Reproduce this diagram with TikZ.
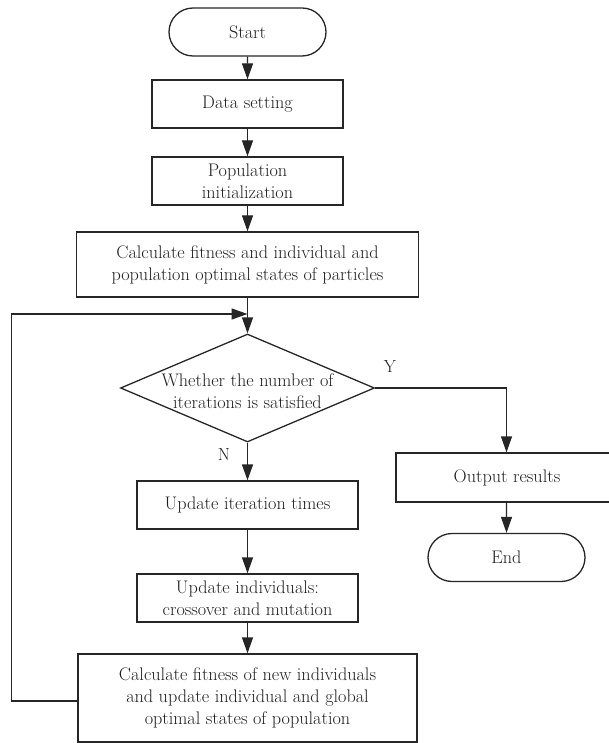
\documentclass[tikz,border=0pt]{standalone}
\usetikzlibrary{arrows.meta,shapes.geometric,shapes.misc}
\begin{document}
\begin{tikzpicture}[x=1pt,y=-1pt,
  txt/.style={font=\fontsize{18.2}{22}\selectfont, text=black!88},
  box/.style={txt, draw=black!85, line width=1.3pt, rectangle, inner sep=0pt, align=center},
  term/.style={txt, draw=black!85, line width=1.3pt, rounded rectangle, inner sep=0pt,
               minimum width=157pt, minimum height=48pt},
  dec/.style={draw=black!85, line width=1.3pt, diamond, inner sep=0pt, aspect=2.35,
              minimum width=254pt, minimum height=108pt},
  dectxt/.style={font=\fontsize{18.2}{22}\selectfont, text=black!88, align=center, inner sep=0pt},
  arr/.style={-{Triangle[length=16pt,width=11pt]}, line width=1.3pt, draw=black!85},
  lbl/.style={font=\fontsize{17.5}{20}\selectfont, text=black!88}]
\useasboundingbox (0,0) rectangle (608,743);

\node[term] (start) at (247.5,32) {Start};
\node[box, minimum width=191pt, minimum height=48pt] (data) at (247.5,104) {Data setting};
\node[box, minimum width=191pt, minimum height=48pt] (pop) at (247.5,181) {Population\\initialization};
\node[box, minimum width=342pt, minimum height=65pt] (calc) at (247.5,264.5)
  {Calculate fitness and individual and\\population optimal states of particles};
\coordinate (join) at (247.5,314);
\node[dec] (dec) at (247.5,388) {};
\node[dectxt] (dect) at (247.5,391) {Whether the number of\\iterations is satisfied};
\node[box, minimum width=221pt, minimum height=48pt] (iter) at (247.5,505) {Update iteration times};
\node[box, minimum width=221pt, minimum height=48pt] (ind) at (247.5,598)
  {Update individuals:\\crossover and mutation};
\node[box, minimum width=339pt, minimum height=88pt] (fit) at (247.5,698)
  {Calculate fitness of new individuals\\and update individual and global\\optimal states of population};
\node[box, minimum width=222pt, minimum height=49pt] (out) at (507,477.5) {Output results};
\node[term] (end) at (506.5,557.5) {End};

\node[lbl] (ylab) at (390,367) {Y};
\node[lbl] (nlab) at (224,455) {N};

\draw[arr] (start) -- (data);
\draw[arr] (data) -- (pop);
\draw[arr] (pop) -- (calc);
\draw[line width=1.3pt, draw=black!85] (calc) -- (join);
\draw[arr] (join) -- (dec);
\draw[arr] (dec.east) -| (out.north -| end.north);
\draw[arr] (out.south -| end.north) -- (end);
\draw[arr] (dec) -- (iter);
\draw[arr] (iter) -- (ind);
\draw[arr] (ind) -- (fit);
\draw[arr] ([yshift=-3pt]fit.west) -- ++(-66,0) |- (join);
\end{tikzpicture}
\end{document}
